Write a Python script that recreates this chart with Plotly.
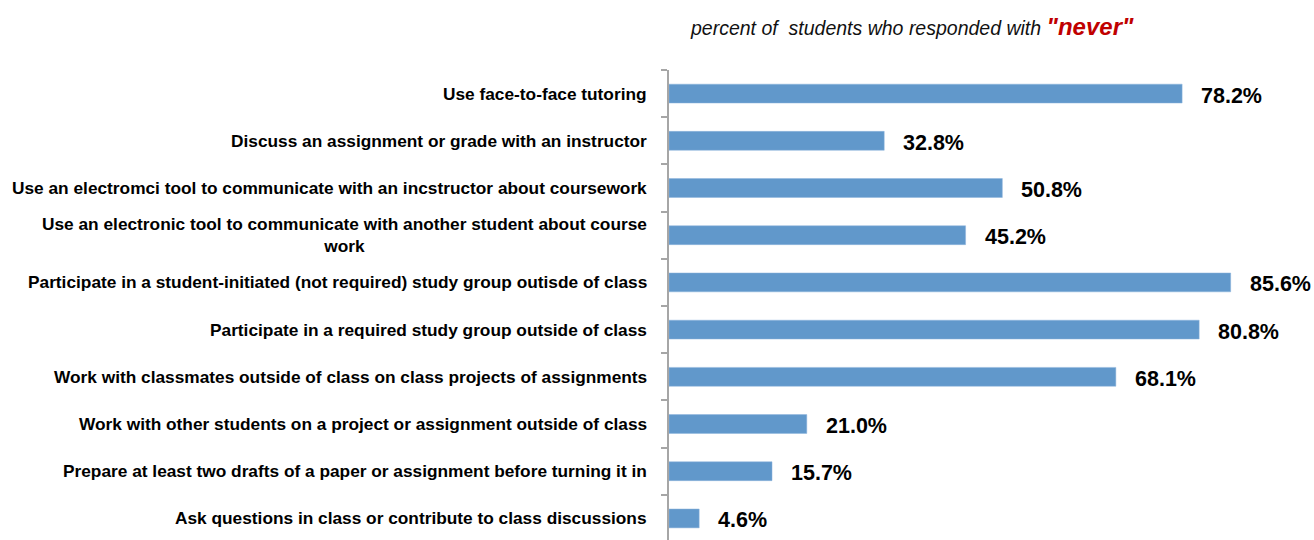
import plotly.graph_objects as go

categories = [
    "Use face-to-face tutoring",
    "Discuss an assignment or grade with an instructor",
    "Use an electromci tool to communicate with an incstructor about coursework",
    "Use an electronic tool to communicate with another student about course<br>work",
    "Participate in a student-initiated (not required) study group outisde of class",
    "Participate in a required study group outside of class",
    "Work with classmates outside of class on class projects of assignments",
    "Work with other students on a project or assignment outside of class",
    "Prepare at least two drafts of a paper or assignment before turning it in",
    "Ask questions in class or contribute to class discussions",
]
values = [78.2, 32.8, 50.8, 45.2, 85.6, 80.8, 68.1, 21.0, 15.7, 4.6]

FONT = "Liberation Sans, Arial, sans-serif"
BAR = "#6198CB"

fig = go.Figure()
fig.add_trace(go.Bar(
    x=values, y=categories, orientation="h",
    marker=dict(color=BAR, line=dict(color="#8FB4DC", width=0.5)),
    hoverinfo="x+y",
))

ann = []
for c, v in zip(categories, values):
    ann.append(dict(
        x=0, xref="paper", y=c, yref="y", xanchor="right", yanchor="middle",
        xshift=-20, align="center", showarrow=False, text=c,
        font=dict(family=FONT, size=17.3, color="#000000", weight=700),
    ))
    ann.append(dict(
        x=v, xref="x", y=c, yref="y", xanchor="left", yanchor="middle",
        xshift=17, yshift=-2, showarrow=False, text=f"{v:.1f}%",
        font=dict(family=FONT, size=21.5, color="#000000", weight=700),
    ))

ann.append(dict(
    x=0.029, xref="paper", y=1 + (70 - 27) / 470, yref="paper",
    xanchor="left", yanchor="middle", showarrow=False,
    text=("<i>percent of&nbsp; students who responded with </i>"
          "<span style='color:#C00000;font-size:24px;font-weight:700'><i>\"never\"</i></span>"),
    font=dict(family=FONT, size=19.5, color="#111111"),
))

fig.update_layout(
    width=1314, height=540,
    margin=dict(l=669, r=0, t=70, b=0),
    plot_bgcolor="white", paper_bgcolor="white",
    bargap=0.6, showlegend=False,
    annotations=ann,
    xaxis=dict(range=[0, 98.3], visible=False, fixedrange=True),
    yaxis=dict(
        type="category", categoryorder="array", categoryarray=categories,
        range=[9.457, -0.5], showticklabels=False,
        showline=True, linecolor="#A6A6A6", linewidth=1.5,
        ticks="outside", tickson="boundaries", ticklen=6, tickcolor="#A6A6A6", tickwidth=1.5,
        showgrid=False, zeroline=False, fixedrange=True,
    ),
)

fig.write_html(
    "out.html",
    config={"displayModeBar": False},
    post_script="document.body.style.margin='0';document.body.style.overflow='hidden';",
)
